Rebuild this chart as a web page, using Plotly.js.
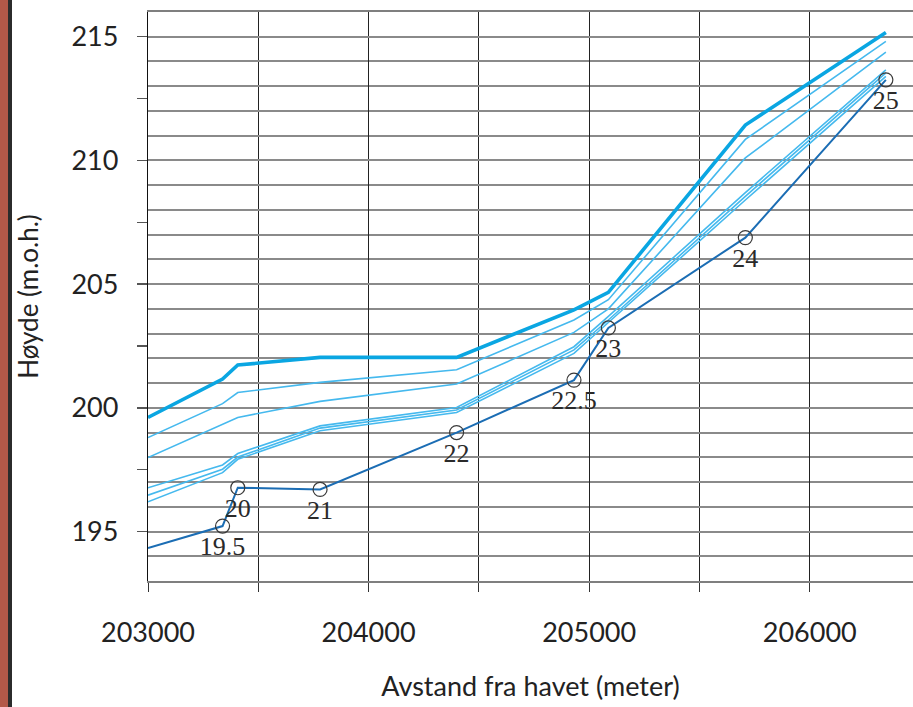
<!DOCTYPE html>
<html>
<head>
<meta charset="utf-8">
<script src="https://cdn.plot.ly/plotly-3.0.1.min.js"></script>
<style>
  html, body { margin: 0; padding: 0; background: #ffffff; }
  #wrap { position: relative; width: 913px; height: 707px; }
  #bar { position: absolute; left: 0; top: 0; width: 8px; height: 707px; background: #b35848; border-right: 4px solid #2b2b2b; z-index: 2; }
  #chart { position: absolute; left: 0; top: 0; width: 913px; height: 707px; }
</style>
</head>
<body>
<div id="wrap">
  <div id="chart"></div>
  <div id="bar"></div>
</div>
<script>
// Distance from the sea (m) at the measured stations
const stationX = [203000, 203338, 203407, 203780, 204399, 204931, 205087, 205708, 206345];
// Station labels (km markers)
const stationLabels = ['', '19.5', '20', '21', '22', '22.5', '23', '24', '25'];

// Water-surface profiles (m.o.h.)
const profileTop = [199.61, 201.16, 201.73, 202.04, 202.04, 203.96, 204.67, 211.43, 215.17];
const profileA   = [198.80, 200.17, 200.62, 201.03, 201.54, 203.55, 204.37, 210.85, 214.81];
const profileB   = [197.99, 199.35, 199.61, 200.26, 200.96, 203.05, 204.00, 210.10, 214.38];
const profileC   = [196.77, 197.69, 198.15, 199.27, 200.01, 202.47, 203.70, 208.70, 213.66];
const profileD   = [196.47, 197.52, 198.01, 199.18, 199.91, 202.34, 203.55, 208.55, 213.54];
const profileE   = [196.20, 197.38, 197.92, 199.07, 199.81, 202.20, 203.45, 208.40, 213.40];
// Measured / base profile with station markers
const profileBase = [194.33, 195.22, 196.77, 196.70, 199.00, 201.12, 203.23, 206.88, 213.26];

const thinColor = '#45b9ee';
const thickColor = '#0aa6e2';
const darkColor = '#1b6db4';

const traces = [];
[profileE, profileD, profileC, profileB, profileA].forEach(function (ys) {
  traces.push({
    x: stationX, y: ys, type: 'scatter', mode: 'lines',
    line: { color: thinColor, width: 1.6 }, showlegend: false, hoverinfo: 'skip'
  });
});
traces.push({
  x: stationX, y: profileTop, type: 'scatter', mode: 'lines',
  line: { color: thickColor, width: 3.6 }, showlegend: false, hoverinfo: 'skip'
});
traces.push({
  x: stationX, y: profileBase, type: 'scatter', mode: 'lines',
  line: { color: darkColor, width: 2 }, showlegend: false, hoverinfo: 'skip'
});
traces.push({
  x: stationX.slice(1), y: profileBase.slice(1), text: stationLabels.slice(1),
  type: 'scatter', mode: 'markers+text', textposition: 'bottom center',
  textfont: { family: 'Liberation Serif, DejaVu Serif, serif', size: 26, color: '#2a2a2a' },
  marker: { symbol: 'circle-open', size: 14, color: '#3a3a3a', line: { width: 1.2, color: '#3a3a3a' } },
  showlegend: false, hoverinfo: 'skip', cliponaxis: false
});
// registers the overlay axis used for the 2.5 m intermediate ticks
traces.push({ x: [], y: [], yaxis: 'y2', type: 'scatter', showlegend: false, hoverinfo: 'skip' });

const font = { family: 'Lato, "Open Sans", "Noto Sans", sans-serif', color: '#222222' };

const layout = {
  width: 913, height: 707,
  margin: { l: 148, r: 0, t: 12, b: 126 },
  paper_bgcolor: '#ffffff', plot_bgcolor: '#ffffff',
  font: font,
  xaxis: {
    range: [203000, 206468],
    tick0: 203000, dtick: 1000,
    tickformat: 'd',
    tickfont: { family: font.family, size: 27, color: '#222' },
    ticks: 'outside', ticklen: 9, tickcolor: '#333', tickwidth: 1,
    ticklabelstandoff: 18,
    showgrid: true, gridcolor: '#222222', gridwidth: 1,
    minor: { dtick: 500, showgrid: true, gridcolor: '#222222', gridwidth: 1, ticks: 'outside', ticklen: 9, tickcolor: '#333' },
    zeroline: false,
    showline: true, linecolor: '#7f7f7f', linewidth: 2, mirror: true,
    title: { text: 'Avstand fra havet (meter)', font: { family: font.family, size: 27, color: '#222' }, standoff: 30 }
  },
  yaxis: {
    range: [193, 216],
    tick0: 195, dtick: 5,
    tickfont: { family: font.family, size: 27, color: '#222' },
    ticks: 'outside', ticklen: 10, tickcolor: '#555', tickwidth: 1.5,
    ticklabelstandoff: 13,
    showgrid: true, gridcolor: '#8a8a8a', gridwidth: 2,
    minor: { dtick: 1, showgrid: true, gridcolor: '#8a8a8a', gridwidth: 2 },
    zeroline: false,
    showline: true, linecolor: '#111111', linewidth: 1.2,
    title: { text: 'Høyde (m.o.h.)', font: { family: font.family, size: 26, color: '#222' }, standoff: 25 }
  },
  yaxis2: {
    overlaying: 'y', side: 'left', range: [193, 216],
    tick0: 197.5, dtick: 5,
    showticklabels: false, ticks: 'outside', ticklen: 10, tickcolor: '#555', tickwidth: 1.5,
    showgrid: false, zeroline: false, showline: false
  }
};

Plotly.newPlot('chart', traces, layout, { staticPlot: true, displayModeBar: false });
</script>
</body>
</html>
